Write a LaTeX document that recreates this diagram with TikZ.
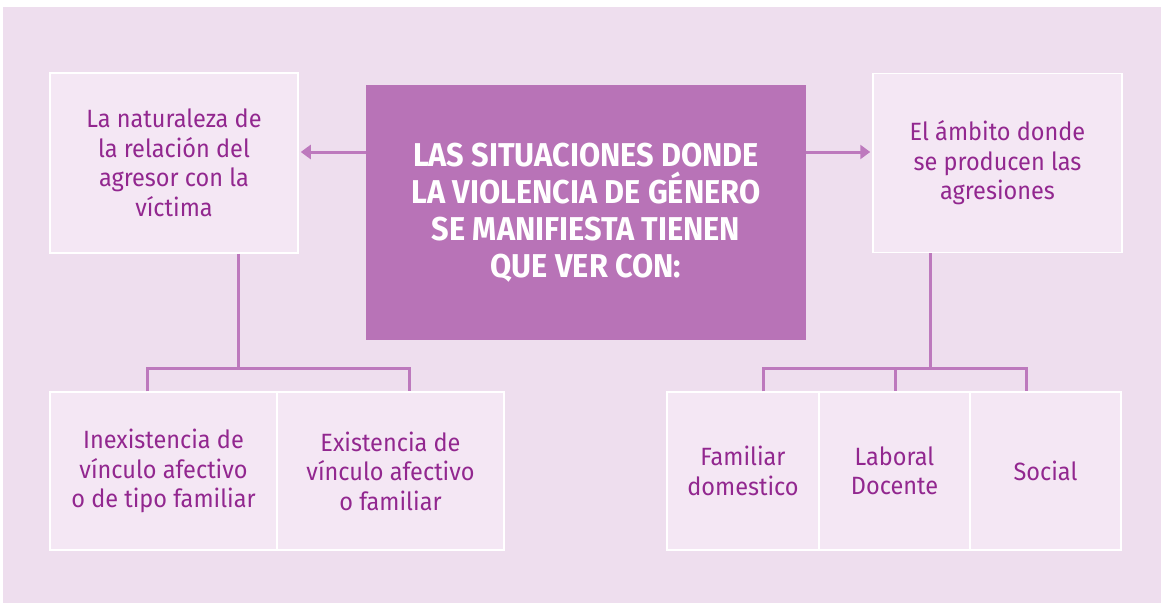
\documentclass[tikz,border=0pt]{standalone}
\usepackage{fontspec}
\setmainfont{Fira Sans}
\newfontfamily\headFont[FakeStretch=0.93]{Fira Sans}
\newfontfamily\boxFont[FakeStretch=0.94]{Fira Sans}
\usetikzlibrary{arrows.meta}

\definecolor{bgPink}{HTML}{EEDEEE}
\definecolor{boxPink}{HTML}{F4E7F4}
\definecolor{mainPurple}{HTML}{B873B7}
\definecolor{linePurple}{HTML}{BD79BD}
\definecolor{textPurple}{HTML}{92278F}

\tikzset{
    box/.style={draw=white, line width=1.5pt, fill=boxPink, text=textPurple, align=center, inner sep=0pt,
        font=\boxFont\fontsize{25}{29.5}\selectfont},
    link/.style={draw=linePurple, line width=3pt},
    tip/.style={-{Triangle[length=10pt, width=14pt]}}
}

\begin{document}
\begin{tikzpicture}[x=1pt, y=-1pt]

    \useasboundingbox (0, 0) rectangle (1163, 605);

    % background
    \fill[white] (0, 0) rectangle (1163, 605);
    \fill[bgPink] (3, 7) rectangle (1161, 603);

    \def\topRowY{163}
    \def\bottomRowY{471}
    \def\barY{368}

    % main box
    \node[fill=mainPurple, minimum width=440pt, minimum height=255pt, inner sep=0pt, text=white, align=center,
        font=\headFont\bfseries\fontsize{33}{37}\selectfont] (mainBox) at (586, 212.5)
        {LAS SITUACIONES DONDE\\LA VIOLENCIA DE GÉNERO\\SE MANIFIESTA TIENEN\\QUE VER CON:};

    % top boxes
    \node[box, minimum width=248pt, minimum height=180pt] (leftBox) at (174, \topRowY)
        {La naturaleza de\\la relación del\\agresor con la\\víctima};
    \node[box, minimum width=249pt, minimum height=179pt] (rightBox) at (997.5, \topRowY)
        {El ámbito donde\\se producen las\\agresiones};

    % bottom boxes, left
    \node[box, minimum width=227pt, minimum height=158pt] (noLinkBox) at (163.5, \bottomRowY)
        {Inexistencia de\\vínculo afectivo\\o de tipo familiar};
    \node[box, minimum width=227pt, minimum height=158pt] (linkBox) at (390.5, \bottomRowY)
        {Existencia de\\vínculo afectivo\\o familiar};

    % bottom boxes, right
    \node[box, minimum width=152pt, minimum height=158pt] (homeBox) at (743, \bottomRowY)
        {Familiar\\domestico};
    \node[box, minimum width=151pt, minimum height=158pt] (workBox) at (894.5, \bottomRowY)
        {Laboral\\Docente};
    \node[box, minimum width=151pt, minimum height=158pt] (socialBox) at (1045.5, \bottomRowY)
        {Social};

    % arrows
    \coordinate (arrowLevel) at (0, 152);
    \draw[link, tip] (mainBox.west |- arrowLevel) -- ([xshift=2pt]leftBox.east |- arrowLevel);
    \draw[link, tip] (mainBox.east |- arrowLevel) -- ([xshift=-2pt]rightBox.west |- arrowLevel);

    % left tree
    \coordinate (leftStem) at (238, \barY);
    \coordinate (leftDropA) at (147, \barY);
    \coordinate (leftDropB) at (409, \barY);
    \draw[link] (leftBox.south -| leftStem) -- (leftStem);
    \draw[link] (noLinkBox.north -| leftDropA) -- (leftDropA) -- (leftDropB) -- (linkBox.north -| leftDropB);

    % right tree
    \coordinate (rightStem) at (930, \barY);
    \coordinate (rightDropA) at (763, \barY);
    \coordinate (rightDropB) at (895, \barY);
    \coordinate (rightDropC) at (1026, \barY);
    \draw[link] (rightBox.south -| rightStem) -- (rightStem);
    \draw[link] (homeBox.north -| rightDropA) -- (rightDropA) -- (rightDropC) -- (socialBox.north -| rightDropC);
    \draw[link] (rightDropB) -- (workBox.north -| rightDropB);

\end{tikzpicture}
\end{document}
